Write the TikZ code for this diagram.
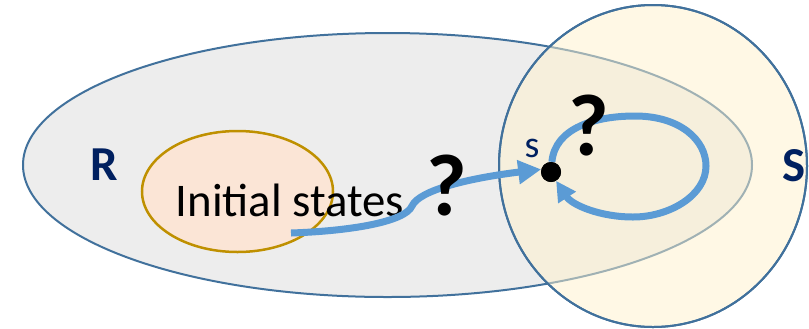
\documentclass[tikz,border=0pt]{standalone}
\usepackage{fontspec}
\setmainfont{Carlito}
\usetikzlibrary{arrows.meta,shapes.geometric}
\definecolor{navy}{HTML}{002060}
\definecolor{rline}{HTML}{41719C}
\definecolor{rfill}{HTML}{EDEDED}
\definecolor{sfill}{HTML}{FFF2CC}
\definecolor{ifill}{HTML}{FBE5D6}
\definecolor{iline}{HTML}{BF9000}
\definecolor{flow}{HTML}{5B9BD5}
\tikzset{
  setshape/.style={ellipse, inner sep=0pt, line width=2bp},
  flowline/.style={draw=flow, line width=7bp, -{Triangle[length=23bp,width=23bp]}},
  loopline/.style={draw=flow, line width=7bp, -{Triangle[length=20bp,width=20bp]}},
  qmark/.style={font=\bfseries\fontsize{88}{92}\selectfont, anchor=base, inner sep=0pt},
  biglabel/.style={font=\bfseries\fontsize{49}{52}\selectfont, text=navy, anchor=base, inner sep=0pt},
}
\begin{document}
\begin{tikzpicture}[x=1bp,y=-1bp]
\useasboundingbox (0,0) rectangle (809,328);
\clip (0,0) rectangle (809,328);
% R set
\node[setshape, draw=rline, fill=rfill, minimum width=729bp, minimum height=264bp] (R) at (387.5,165) {};
% Initial states
\node[setshape, draw=iline, fill=ifill, line width=2.5bp, minimum width=191bp, minimum height=121bp] (init) at (237.5,191.5) {};
\node[font=\fontsize{47}{50}\selectfont, anchor=base, inner sep=0pt] (inittext) at (290,216) {Initial states};
% S set
\node[setshape, draw=rline, fill=sfill, fill opacity=0.5, minimum width=308bp, minimum height=322bp] (S) at (653,166) {};
\node[setshape, draw=rline, minimum width=308bp, minimum height=322bp] (Sb) at (653,166) {};
% state s
\node[circle, fill=black, inner sep=0pt, minimum size=20bp] (dot) at (551,172) {};
\coordinate (start) at (291,233);
\draw[flowline] (start) .. controls (350,231) and (405,222) .. (412,206)
  .. controls (419,190) and (470,178) .. (dot.165);
\draw[loopline] (dot.85) .. controls (555,128) and (595,116) .. (635,116)
  .. controls (680,116) and (706,140) .. (706,166)
  .. controls (706,195) and (670,217) .. (633,217)
  .. controls (600,217) and (572,205) .. (dot.-60);
\node[circle, fill=black, inner sep=0pt, minimum size=20bp] at (dot) {};
% labels
\node[qmark] (q1) at (447,215) {?};
\node[qmark] (q2) at (589,155) {?};
\node[biglabel] (Rlab) at (104.5,180) {R};
\node[biglabel] (Slab) at (794,181) {S};
\node[font=\fontsize{38}{40}\selectfont, text=navy, anchor=base, inner sep=0pt] (slab) at (532,157) {s};
\end{tikzpicture}
\end{document}
